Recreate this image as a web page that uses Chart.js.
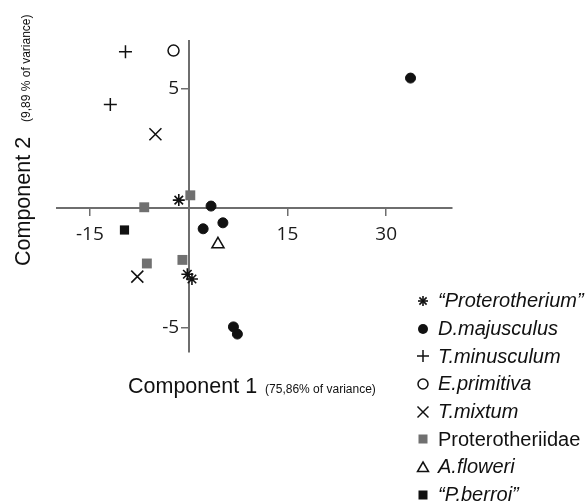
<!DOCTYPE html>
<html>
<head>
<meta charset="utf-8">
<script src="https://cdn.jsdelivr.net/npm/chart.js@4/dist/chart.umd.min.js"></script>
<style>
  html, body { margin: 0; padding: 0; background: #fff; }
  #wrap { position: relative; width: 587px; height: 502px; overflow: hidden; }
  #chart { position: absolute; left: 0; top: 0; }
  .title { position: absolute; white-space: nowrap; font-family: "Liberation Sans", Arial, sans-serif; color: #111; line-height: 22px; }
  .title .main { font-size: 21.5px; }
  .title .sub { font-size: 12px; }
  #xtitle { left: 128px; top: 374.5px; }
  #xtitle .sub { margin-left: 8px; }
  #ytitle { left: 12px; top: 266px; transform: rotate(-90deg); transform-origin: left top; }
  #ytitle .sub { margin-left: 15px; }
  #legend { position: absolute; left: 414px; top: 287px; font-family: "Liberation Sans", Arial, sans-serif; font-size: 20px; color: #111; }
  .row { height: 27.7px; display: flex; align-items: center; white-space: nowrap; }
  .row svg { width: 18px; height: 18px; margin-right: 6px; flex: none; }
  .it { font-style: italic; }
</style>
</head>
<body>
<div id="wrap">
  <canvas id="chart" width="587" height="502"></canvas>
  <div id="xtitle" class="title"><span class="main">Component 1</span><span class="sub">(75,86% of variance)</span></div>
  <div id="ytitle" class="title"><span class="main">Component 2</span><span class="sub">(9,89 % of variance)</span></div>
  <div id="legend"></div>
</div>
<script>
// PCA scores (Component 1, Component 2) per group
const seriesNames = ['“Proterotherium”', 'D.majusculus', 'T.minusculum', 'E.primitiva', 'T.mixtum', 'Proterotheriidae', 'A.floweri', '“P.berroi”'];
const proterotheriumPts = [[-1.5, 0.35], [-0.2, -2.75], [0.5, -2.95]];
const majusculusPts = [[3.4, 0.1], [2.2, -0.85], [5.2, -0.6], [33.7, 5.45], [6.8, -4.95], [7.4, -5.25]];
const minusculumPts = [[-9.6, 6.55], [-11.9, 4.35]];
const primitivaPts = [[-2.3, 6.6]];
const mixtumPts = [[-5.05, 3.1], [-7.8, -2.85]];
const proterotheriidaePts = [[0.25, 0.55], [-6.75, 0.05], [-6.35, -2.3], [-0.95, -2.15]];
const floweriPts = [[4.45, -1.5]];
const berroiPts = [[-9.75, -0.9]];
const xTicks = [-15, 15, 30];
const yTicks = [-5, 5];

const seriesPoints = [proterotheriumPts, majusculusPts, minusculumPts, primitivaPts, mixtumPts, proterotheriidaePts, floweriPts, berroiPts];

const INK = '#111111';
const GREY = '#707070';
const AXIS = '#6e6e6e';

// marker look for each group
const markers = [
  { pointStyle: 'star', radius: 6, borderWidth: 1.6, borderColor: INK, backgroundColor: INK },
  { pointStyle: 'circle', radius: 5, borderWidth: 1, borderColor: INK, backgroundColor: INK },
  { pointStyle: 'cross', radius: 6.5, borderWidth: 1.5, borderColor: INK, backgroundColor: INK },
  { pointStyle: 'circle', radius: 5.5, borderWidth: 1.5, borderColor: INK, backgroundColor: '#fff' },
  { pointStyle: 'crossRot', radius: 8.5, borderWidth: 1.5, borderColor: INK, backgroundColor: INK },
  { pointStyle: 'rect', radius: 7, borderWidth: 0, borderColor: GREY, backgroundColor: GREY },
  { pointStyle: 'triangle', radius: 7, borderWidth: 1.5, borderColor: INK, backgroundColor: '#fff' },
  { pointStyle: 'rect', radius: 6.5, borderWidth: 0, borderColor: INK, backgroundColor: INK }
];

const datasets = seriesNames.map((name, i) => ({
  label: name,
  data: seriesPoints[i].map(([x, y]) => ({ x, y })),
  pointStyle: markers[i].pointStyle,
  pointRadius: markers[i].radius,
  pointHoverRadius: markers[i].radius,
  pointBorderWidth: markers[i].borderWidth,
  pointBorderColor: markers[i].borderColor,
  pointBackgroundColor: markers[i].backgroundColor,
  showLine: false
}));

const tickFont = { family: '"Open Sans", sans-serif', size: 19 };

new Chart(document.getElementById('chart'), {
  type: 'scatter',
  data: { datasets },
  options: {
    responsive: false,
    animation: false,
    events: [],
    layout: { padding: { left: 57, right: 135, top: 41, bottom: 150 } },
    plugins: { legend: { display: false }, tooltip: { enabled: false } },
    scales: {
      x: {
        type: 'linear',
        min: -20, max: 40,
        position: { y: 0 },
        afterBuildTicks: s => { s.ticks = xTicks.map(v => ({ value: v })); },
        afterFit: s => { s.height = 0; },
        ticks: { font: tickFont, color: '#1a1a1a', padding: 8, callback: v => String(v) },
        grid: { drawOnChartArea: false, drawTicks: true, tickLength: 7, color: AXIS, lineWidth: 1.5 },
        border: { display: true, color: AXIS, width: 2 }
      },
      y: {
        type: 'linear',
        min: -6, max: 7,
        position: { x: 0 },
        afterBuildTicks: s => { s.ticks = yTicks.map(v => ({ value: v })); },
        afterFit: s => { s.width = 0; },
        // a centred y axis puts its labels right on the axis line; trailing
        // spaces keep them clear of the tick marks
        ticks: { font: tickFont, color: '#1a1a1a', padding: 2, callback: v => String(v) + '\u2009\u2009\u2009' },
        grid: { drawOnChartArea: false, drawTicks: true, tickLength: 7, color: AXIS, lineWidth: 1.5 },
        border: { display: true, color: AXIS, width: 2 }
      }
    }
  }
});

// legend with small vector markers
function markerSvg(m) {
  const c = 9;
  const s = m.borderColor, f = m.backgroundColor;
  let body = '';
  switch (m.pointStyle) {
    case 'star':
      body = `<g stroke="${s}" stroke-width="1.6"><line x1="${c}" y1="${c-5}" x2="${c}" y2="${c+5}"/><line x1="${c-5}" y1="${c}" x2="${c+5}" y2="${c}"/><line x1="${c-3.6}" y1="${c-3.6}" x2="${c+3.6}" y2="${c+3.6}"/><line x1="${c-3.6}" y1="${c+3.6}" x2="${c+3.6}" y2="${c-3.6}"/></g>`;
      break;
    case 'circle':
      body = f === '#fff'
        ? `<circle cx="${c}" cy="${c}" r="5" fill="#fff" stroke="${s}" stroke-width="1.5"/>`
        : `<circle cx="${c}" cy="${c}" r="5" fill="${f}"/>`;
      break;
    case 'cross':
      body = `<g stroke="${s}" stroke-width="1.5"><line x1="${c}" y1="${c-6}" x2="${c}" y2="${c+6}"/><line x1="${c-6}" y1="${c}" x2="${c+6}" y2="${c}"/></g>`;
      break;
    case 'crossRot':
      body = `<g stroke="${s}" stroke-width="1.5"><line x1="${c-5.5}" y1="${c-5.5}" x2="${c+5.5}" y2="${c+5.5}"/><line x1="${c-5.5}" y1="${c+5.5}" x2="${c+5.5}" y2="${c-5.5}"/></g>`;
      break;
    case 'rect':
      body = `<rect x="${c-4.5}" y="${c-4.5}" width="9" height="9" fill="${f}"/>`;
      break;
    case 'triangle':
      body = `<polygon points="${c},${c-5} ${c+5.5},${c+4.5} ${c-5.5},${c+4.5}" fill="#fff" stroke="${s}" stroke-width="1.5"/>`;
      break;
  }
  return `<svg viewBox="0 0 18 18">${body}</svg>`;
}

const legend = document.getElementById('legend');
seriesNames.forEach((name, i) => {
  const row = document.createElement('div');
  row.className = 'row';
  const label = document.createElement('span');
  label.textContent = name;
  if (name !== 'Proterotheriidae') label.className = 'it';
  row.innerHTML = markerSvg(markers[i]);
  row.appendChild(label);
  legend.appendChild(row);
});
</script>
</body>
</html>
